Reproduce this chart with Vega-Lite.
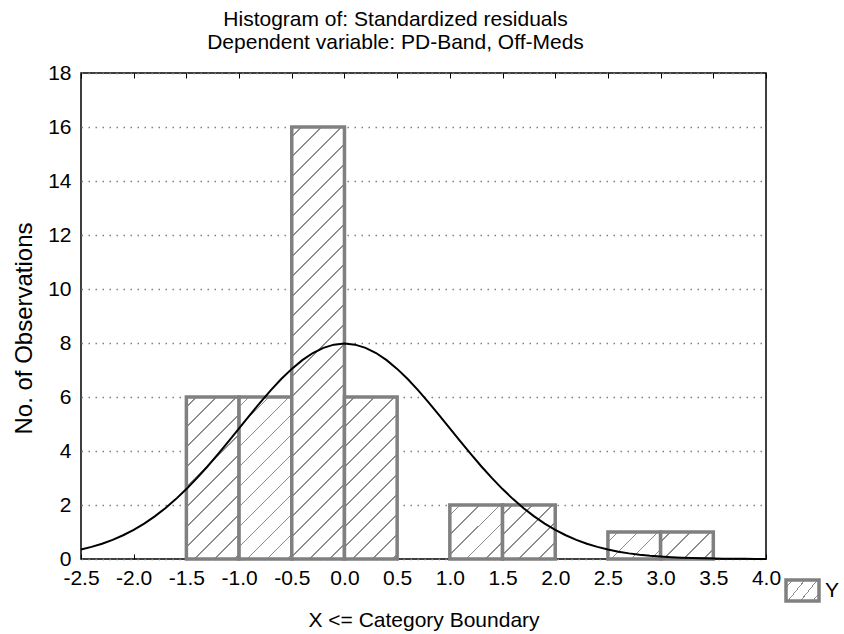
{
  "$schema": "https://vega.github.io/schema/vega-lite/v6.json",
  "autosize": {"type": "none"},
  "width": 685,
  "height": 486,
  "padding": {"left": 81, "top": 73, "right": 78, "bottom": 75},
  "background": "white",
  "config": {
    "font": "Liberation Sans",
    "view": {"stroke": "black", "strokeWidth": 1.5},
    "axis": {"labelColor": "black", "titleColor": "black", "labelFontWeight": "normal", "titleFontWeight": "normal", "labelFontSize": 21, "titleFontSize": 21, "labelFont": "Liberation Sans", "titleFont": "Liberation Sans"}
  },
  "title": {
    "text": ["Histogram of: Standardized residuals", "Dependent variable: PD-Band, Off-Meds"],
    "font": "Liberation Sans",
    "fontSize": 21,
    "fontWeight": "normal",
    "color": "black",
    "lineHeight": 23,
    "anchor": "middle",
    "dx": -28,
    "offset": 9
  },
  "datasets": {
    "bins": [
      {"lo": -1.5, "hi": -1.0, "count": 6},
      {"lo": -1.0, "hi": -0.5, "count": 6},
      {"lo": -0.5, "hi": 0.0, "count": 16},
      {"lo": 0.0, "hi": 0.5, "count": 6},
      {"lo": 1.0, "hi": 1.5, "count": 2},
      {"lo": 1.5, "hi": 2.0, "count": 2},
      {"lo": 2.5, "hi": 3.0, "count": 1},
      {"lo": 3.0, "hi": 3.5, "count": 1}
    ],
    "curve": [
      {"x": -2.5, "y": 0.351}, {"x": -2.4, "y": 0.448}, {"x": -2.3, "y": 0.567}, {"x": -2.2, "y": 0.709}, {"x": -2.1, "y": 0.880},
      {"x": -2.0, "y": 1.080}, {"x": -1.9, "y": 1.312}, {"x": -1.8, "y": 1.579}, {"x": -1.7, "y": 1.881}, {"x": -1.6, "y": 2.218},
      {"x": -1.5, "y": 2.590}, {"x": -1.4, "y": 2.995}, {"x": -1.3, "y": 3.427}, {"x": -1.2, "y": 3.884}, {"x": -1.1, "y": 4.357},
      {"x": -1.0, "y": 4.839}, {"x": -0.9, "y": 5.322}, {"x": -0.8, "y": 5.794}, {"x": -0.7, "y": 6.245}, {"x": -0.6, "y": 6.664},
      {"x": -0.5, "y": 7.041}, {"x": -0.4, "y": 7.365}, {"x": -0.3, "y": 7.628}, {"x": -0.2, "y": 7.821}, {"x": -0.1, "y": 7.939},
      {"x": 0.0, "y": 7.979}, {"x": 0.1, "y": 7.939}, {"x": 0.2, "y": 7.821}, {"x": 0.3, "y": 7.628}, {"x": 0.4, "y": 7.365},
      {"x": 0.5, "y": 7.041}, {"x": 0.6, "y": 6.664}, {"x": 0.7, "y": 6.245}, {"x": 0.8, "y": 5.794}, {"x": 0.9, "y": 5.322},
      {"x": 1.0, "y": 4.839}, {"x": 1.1, "y": 4.357}, {"x": 1.2, "y": 3.884}, {"x": 1.3, "y": 3.427}, {"x": 1.4, "y": 2.995},
      {"x": 1.5, "y": 2.590}, {"x": 1.6, "y": 2.218}, {"x": 1.7, "y": 1.881}, {"x": 1.8, "y": 1.579}, {"x": 1.9, "y": 1.312},
      {"x": 2.0, "y": 1.080}, {"x": 2.1, "y": 0.880}, {"x": 2.2, "y": 0.709}, {"x": 2.3, "y": 0.567}, {"x": 2.4, "y": 0.448},
      {"x": 2.5, "y": 0.351}, {"x": 2.6, "y": 0.272}, {"x": 2.7, "y": 0.208}, {"x": 2.8, "y": 0.158}, {"x": 2.9, "y": 0.119},
      {"x": 3.0, "y": 0.089}, {"x": 3.1, "y": 0.065}, {"x": 3.2, "y": 0.048}, {"x": 3.3, "y": 0.034}, {"x": 3.4, "y": 0.025},
      {"x": 3.5, "y": 0.017}, {"x": 3.6, "y": 0.012}, {"x": 3.7, "y": 0.008}, {"x": 3.8, "y": 0.006}, {"x": 3.9, "y": 0.004},
      {"x": 4.0, "y": 0.003}
    ]
  },
  "layer": [
    {
      "data": {"name": "bins"},
      "mark": {"type": "bar", "strokeWidth": 3.5, "opacity": 1},
      "encoding": {
        "x": {
          "field": "lo", "type": "quantitative",
          "scale": {"domain": [-2.5, 4.0], "nice": false, "zero": false},
          "axis": {
            "orient": "bottom",
            "values": [-2.5, -2.0, -1.5, -1.0, -0.5, 0.0, 0.5, 1.0, 1.5, 2.0, 2.5, 3.0, 3.5, 4.0],
            "labelExpr": "replace(format(datum.value, '.1f'), '\u2212', '-')",
            "title": "X <= Category Boundary",
            "titlePadding": 21,
            "labelPadding": 13,
            "tickSize": -5,
            "tickColor": "black",
            "domain": false,
            "grid": false,
            "labelFlush": false,
            "labelOverlap": false
          }
        },
        "x2": {"field": "hi"},
        "y": {
          "field": "count", "type": "quantitative",
          "scale": {"domain": [0, 18], "nice": false},
          "axis": {
            "values": [0, 2, 4, 6, 8, 10, 12, 14, 16, 18],
            "title": "No. of Observations",
            "titleFontSize": 24,
            "titleY": 255,
            "titlePadding": 11,
            "labelPadding": 10,
            "ticks": false,
            "domain": false,
            "grid": true,
            "gridColor": "#808080",
            "gridDash": [1.5, 5.5],
            "gridWidth": 1.5
          }
        },
        "y2": {"datum": 0},
        "stroke": {
          "datum": "Y", "type": "nominal",
          "scale": {"range": ["#808080"]},
          "legend": {
            "title": null,
            "orient": "none",
            "legendX": 703,
            "legendY": 499,
            "padding": 0,
            "symbolType": "M-1,-0.636H1V0.636H-1Z",
            "symbolSize": 1089,
            "symbolStrokeWidth": 3.5,
            "symbolStrokeColor": "#808080",
            "symbolOpacity": 1,
            "labelFontSize": 21,
            "labelColor": "black",
            "labelOffset": 4,
            "encode": {
              "symbols": {
                "update": {
                  "fill": {"value": {"gradient": "linear", "x1": 0, "y1": 0, "x2": 1.2941, "y2": 0.8235, "stops": [
                    {"offset": 0, "color": "white"},
                    {"offset": 0.1525, "color": "white"}, {"offset": 0.1525, "color": "#8c8c8c"}, {"offset": 0.1808, "color": "#8c8c8c"}, {"offset": 0.1808, "color": "white"},
                    {"offset": 0.4858, "color": "white"}, {"offset": 0.4858, "color": "#8c8c8c"}, {"offset": 0.5142, "color": "#8c8c8c"}, {"offset": 0.5142, "color": "white"},
                    {"offset": 0.8192, "color": "white"}, {"offset": 0.8192, "color": "#8c8c8c"}, {"offset": 0.8475, "color": "#8c8c8c"}, {"offset": 0.8475, "color": "white"},
                    {"offset": 1, "color": "white"}
                  ]}},
                  "fillOpacity": {"value": 1},
                  "stroke": {"value": "#808080"},
                  "opacity": {"value": 1}
                }
              }
            }
          }
        },
        "fill": {
          "condition": [
            {"test": "datum.count == 16", "value": {"gradient": "linear", "x1": 0, "y1": 0, "x2": 0.1391, "y2": 1.14044, "stops": [
              {"offset": 0, "color": "white"},
              {"offset": 0.0183, "color": "white"}, {"offset": 0.0183, "color": "#8c8c8c"}, {"offset": 0.0217, "color": "#8c8c8c"}, {"offset": 0.0217, "color": "white"},
              {"offset": 0.0583, "color": "white"}, {"offset": 0.0583, "color": "#8c8c8c"}, {"offset": 0.0617, "color": "#8c8c8c"}, {"offset": 0.0617, "color": "white"},
              {"offset": 0.0983, "color": "white"}, {"offset": 0.0983, "color": "#8c8c8c"}, {"offset": 0.1017, "color": "#8c8c8c"}, {"offset": 0.1017, "color": "white"},
              {"offset": 0.1383, "color": "white"}, {"offset": 0.1383, "color": "#8c8c8c"}, {"offset": 0.1417, "color": "#8c8c8c"}, {"offset": 0.1417, "color": "white"},
              {"offset": 0.1783, "color": "white"}, {"offset": 0.1783, "color": "#8c8c8c"}, {"offset": 0.1817, "color": "#8c8c8c"}, {"offset": 0.1817, "color": "white"},
              {"offset": 0.2183, "color": "white"}, {"offset": 0.2183, "color": "#8c8c8c"}, {"offset": 0.2217, "color": "#8c8c8c"}, {"offset": 0.2217, "color": "white"},
              {"offset": 0.2583, "color": "white"}, {"offset": 0.2583, "color": "#8c8c8c"}, {"offset": 0.2617, "color": "#8c8c8c"}, {"offset": 0.2617, "color": "white"},
              {"offset": 0.2983, "color": "white"}, {"offset": 0.2983, "color": "#8c8c8c"}, {"offset": 0.3017, "color": "#8c8c8c"}, {"offset": 0.3017, "color": "white"},
              {"offset": 0.3383, "color": "white"}, {"offset": 0.3383, "color": "#8c8c8c"}, {"offset": 0.3417, "color": "#8c8c8c"}, {"offset": 0.3417, "color": "white"},
              {"offset": 0.3783, "color": "white"}, {"offset": 0.3783, "color": "#8c8c8c"}, {"offset": 0.3817, "color": "#8c8c8c"}, {"offset": 0.3817, "color": "white"},
              {"offset": 0.4183, "color": "white"}, {"offset": 0.4183, "color": "#8c8c8c"}, {"offset": 0.4217, "color": "#8c8c8c"}, {"offset": 0.4217, "color": "white"},
              {"offset": 0.4583, "color": "white"}, {"offset": 0.4583, "color": "#8c8c8c"}, {"offset": 0.4617, "color": "#8c8c8c"}, {"offset": 0.4617, "color": "white"},
              {"offset": 0.4983, "color": "white"}, {"offset": 0.4983, "color": "#8c8c8c"}, {"offset": 0.5017, "color": "#8c8c8c"}, {"offset": 0.5017, "color": "white"},
              {"offset": 0.5383, "color": "white"}, {"offset": 0.5383, "color": "#8c8c8c"}, {"offset": 0.5417, "color": "#8c8c8c"}, {"offset": 0.5417, "color": "white"},
              {"offset": 0.5783, "color": "white"}, {"offset": 0.5783, "color": "#8c8c8c"}, {"offset": 0.5817, "color": "#8c8c8c"}, {"offset": 0.5817, "color": "white"},
              {"offset": 0.6183, "color": "white"}, {"offset": 0.6183, "color": "#8c8c8c"}, {"offset": 0.6217, "color": "#8c8c8c"}, {"offset": 0.6217, "color": "white"},
              {"offset": 0.6583, "color": "white"}, {"offset": 0.6583, "color": "#8c8c8c"}, {"offset": 0.6617, "color": "#8c8c8c"}, {"offset": 0.6617, "color": "white"},
              {"offset": 0.6983, "color": "white"}, {"offset": 0.6983, "color": "#8c8c8c"}, {"offset": 0.7017, "color": "#8c8c8c"}, {"offset": 0.7017, "color": "white"},
              {"offset": 0.7383, "color": "white"}, {"offset": 0.7383, "color": "#8c8c8c"}, {"offset": 0.7417, "color": "#8c8c8c"}, {"offset": 0.7417, "color": "white"},
              {"offset": 0.7783, "color": "white"}, {"offset": 0.7783, "color": "#8c8c8c"}, {"offset": 0.7817, "color": "#8c8c8c"}, {"offset": 0.7817, "color": "white"},
              {"offset": 0.8183, "color": "white"}, {"offset": 0.8183, "color": "#8c8c8c"}, {"offset": 0.8217, "color": "#8c8c8c"}, {"offset": 0.8217, "color": "white"},
              {"offset": 0.8583, "color": "white"}, {"offset": 0.8583, "color": "#8c8c8c"}, {"offset": 0.8617, "color": "#8c8c8c"}, {"offset": 0.8617, "color": "white"},
              {"offset": 0.8983, "color": "white"}, {"offset": 0.8983, "color": "#8c8c8c"}, {"offset": 0.9017, "color": "#8c8c8c"}, {"offset": 0.9017, "color": "white"},
              {"offset": 0.9383, "color": "white"}, {"offset": 0.9383, "color": "#8c8c8c"}, {"offset": 0.9417, "color": "#8c8c8c"}, {"offset": 0.9417, "color": "white"},
              {"offset": 1, "color": "white"}
            ]}},
            {"test": "datum.count == 6", "value": {"gradient": "linear", "x1": 0, "y1": 0, "x2": 0.39944, "y2": 1.22812, "stops": [
              {"offset": 0, "color": "white"},
              {"offset": 0.0416, "color": "white"}, {"offset": 0.0416, "color": "#8c8c8c"}, {"offset": 0.0493, "color": "#8c8c8c"}, {"offset": 0.0493, "color": "white"},
              {"offset": 0.1325, "color": "white"}, {"offset": 0.1325, "color": "#8c8c8c"}, {"offset": 0.1402, "color": "#8c8c8c"}, {"offset": 0.1402, "color": "white"},
              {"offset": 0.2234, "color": "white"}, {"offset": 0.2234, "color": "#8c8c8c"}, {"offset": 0.2311, "color": "#8c8c8c"}, {"offset": 0.2311, "color": "white"},
              {"offset": 0.3143, "color": "white"}, {"offset": 0.3143, "color": "#8c8c8c"}, {"offset": 0.3221, "color": "#8c8c8c"}, {"offset": 0.3221, "color": "white"},
              {"offset": 0.4052, "color": "white"}, {"offset": 0.4052, "color": "#8c8c8c"}, {"offset": 0.4130, "color": "#8c8c8c"}, {"offset": 0.4130, "color": "white"},
              {"offset": 0.4961, "color": "white"}, {"offset": 0.4961, "color": "#8c8c8c"}, {"offset": 0.5039, "color": "#8c8c8c"}, {"offset": 0.5039, "color": "white"},
              {"offset": 0.5870, "color": "white"}, {"offset": 0.5870, "color": "#8c8c8c"}, {"offset": 0.5948, "color": "#8c8c8c"}, {"offset": 0.5948, "color": "white"},
              {"offset": 0.6780, "color": "white"}, {"offset": 0.6780, "color": "#8c8c8c"}, {"offset": 0.6857, "color": "#8c8c8c"}, {"offset": 0.6857, "color": "white"},
              {"offset": 0.7689, "color": "white"}, {"offset": 0.7689, "color": "#8c8c8c"}, {"offset": 0.7766, "color": "#8c8c8c"}, {"offset": 0.7766, "color": "white"},
              {"offset": 0.8598, "color": "white"}, {"offset": 0.8598, "color": "#8c8c8c"}, {"offset": 0.8675, "color": "#8c8c8c"}, {"offset": 0.8675, "color": "white"},
              {"offset": 0.9507, "color": "white"}, {"offset": 0.9507, "color": "#8c8c8c"}, {"offset": 0.9584, "color": "#8c8c8c"}, {"offset": 0.9584, "color": "white"},
              {"offset": 1, "color": "white"}
            ]}},
            {"test": "datum.count == 2", "value": {"gradient": "linear", "x1": 0, "y1": 0, "x2": 1.1108, "y2": 1.1384, "stops": [
              {"offset": 0, "color": "white"},
              {"offset": 0.0763, "color": "white"}, {"offset": 0.0763, "color": "#8c8c8c"}, {"offset": 0.0904, "color": "#8c8c8c"}, {"offset": 0.0904, "color": "white"},
              {"offset": 0.2429, "color": "white"}, {"offset": 0.2429, "color": "#8c8c8c"}, {"offset": 0.2571, "color": "#8c8c8c"}, {"offset": 0.2571, "color": "white"},
              {"offset": 0.4096, "color": "white"}, {"offset": 0.4096, "color": "#8c8c8c"}, {"offset": 0.4238, "color": "#8c8c8c"}, {"offset": 0.4238, "color": "white"},
              {"offset": 0.5763, "color": "white"}, {"offset": 0.5763, "color": "#8c8c8c"}, {"offset": 0.5904, "color": "#8c8c8c"}, {"offset": 0.5904, "color": "white"},
              {"offset": 0.7429, "color": "white"}, {"offset": 0.7429, "color": "#8c8c8c"}, {"offset": 0.7571, "color": "#8c8c8c"}, {"offset": 0.7571, "color": "white"},
              {"offset": 1, "color": "white"}
            ]}}
          ],
          "value": {"gradient": "linear", "x1": 0, "y1": 0, "x2": 1.2025, "y2": 0.6161, "stops": [
            {"offset": 0, "color": "white"},
            {"offset": 0.1144, "color": "white"}, {"offset": 0.1144, "color": "#8c8c8c"}, {"offset": 0.1356, "color": "#8c8c8c"}, {"offset": 0.1356, "color": "white"},
            {"offset": 0.3644, "color": "white"}, {"offset": 0.3644, "color": "#8c8c8c"}, {"offset": 0.3856, "color": "#8c8c8c"}, {"offset": 0.3856, "color": "white"},
            {"offset": 0.6144, "color": "white"}, {"offset": 0.6144, "color": "#8c8c8c"}, {"offset": 0.6356, "color": "#8c8c8c"}, {"offset": 0.6356, "color": "white"},
            {"offset": 0.8644, "color": "white"}, {"offset": 0.8644, "color": "#8c8c8c"}, {"offset": 0.8856, "color": "#8c8c8c"}, {"offset": 0.8856, "color": "white"},
            {"offset": 1, "color": "white"}
          ]}
        }
      }
    },
    {
      "data": {"name": "curve"},
      "mark": {"type": "line", "color": "black", "strokeWidth": 2},
      "encoding": {
        "x": {
          "field": "x", "type": "quantitative",
          "axis": {
            "orient": "top",
            "values": [-2.5, -2.0, -1.5, -1.0, -0.5, 0.0, 0.5, 1.0, 1.5, 2.0, 2.5, 3.0, 3.5, 4.0],
            "labels": false,
            "title": null,
            "tickSize": -5,
            "tickColor": "black",
            "domain": false,
            "grid": false
          }
        },
        "y": {"field": "y", "type": "quantitative"}
      }
    }
  ]
}
